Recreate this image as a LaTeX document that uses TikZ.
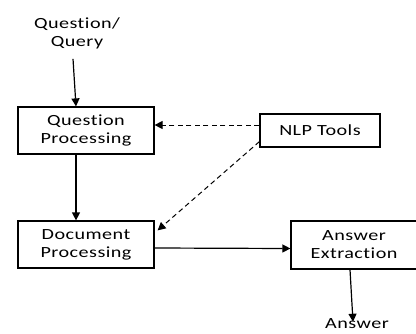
\documentclass[tikz,border=0pt]{standalone}
\usepackage{fontspec}
\setmainfont{Carlito}[FakeStretch=1.3,LetterSpace=3,Ligatures={NoCommon,NoRare,NoDiscretionary}]
\usepackage{tikz}
\usetikzlibrary{arrows.meta}
\tikzset{%
  procbox/.style={draw,line width=1.2pt,inner sep=0pt,align=center,font=\fontsize{15.5}{18}\selectfont},
  plaintext/.style={inner sep=0pt,align=center,font=\fontsize{15.5}{18}\selectfont},
  flow/.style={-{Triangle[length=8pt,width=8pt]},line width=1.2pt},
  tooluse/.style={flow,line width=1pt,dash pattern=on 5pt off 3.5pt}
}
\begin{document}
\begin{tikzpicture}[x=1pt,y=1pt]
    \useasboundingbox (0,0) rectangle (416,-333);

        % Input and output texts
        \node[plaintext] (query) at (77,-33) {Question/\\Query};
        \node[plaintext] (answer) at (357,-324) {Answer};

        % Boxes
        \node[procbox,minimum width=136pt,minimum height=47pt] (qproc) at (86,-130.5) {Question\\Processing};
        \node[procbox,minimum width=120pt,minimum height=33pt] (nlp) at (320,-130.5) {NLP Tools};
        \node[procbox,minimum width=136pt,minimum height=47pt] (dproc) at (86,-244.5) {Document\\Processing};
        \node[procbox,minimum width=126pt,minimum height=48pt] (aext) at (354,-245) {Answer\\Extraction};

        % Main flow
        \draw[flow] ([shift={(-4,-10)}]query.south) -- ([xshift=-10pt]qproc.north);
        \draw[flow] ([xshift=-10pt]qproc.south) -- ([xshift=-10pt]dproc.north);
        \draw[flow] ([yshift=-3.5pt]dproc.east) -- ([yshift=-3.5pt]aext.west);
        \draw[flow] ([xshift=-4pt]aext.south) -- ([shift={(-4,-3)}]answer.north);

        % NLP tools used by both steps
        \draw[tooluse] ([yshift=5.5pt]nlp.west) -- ([yshift=5.5pt]qproc.east);
        \draw[tooluse] ([yshift=6pt]nlp.south west) -- ([shift={(3,-10)}]dproc.north east);

\end{tikzpicture}
\end{document}
